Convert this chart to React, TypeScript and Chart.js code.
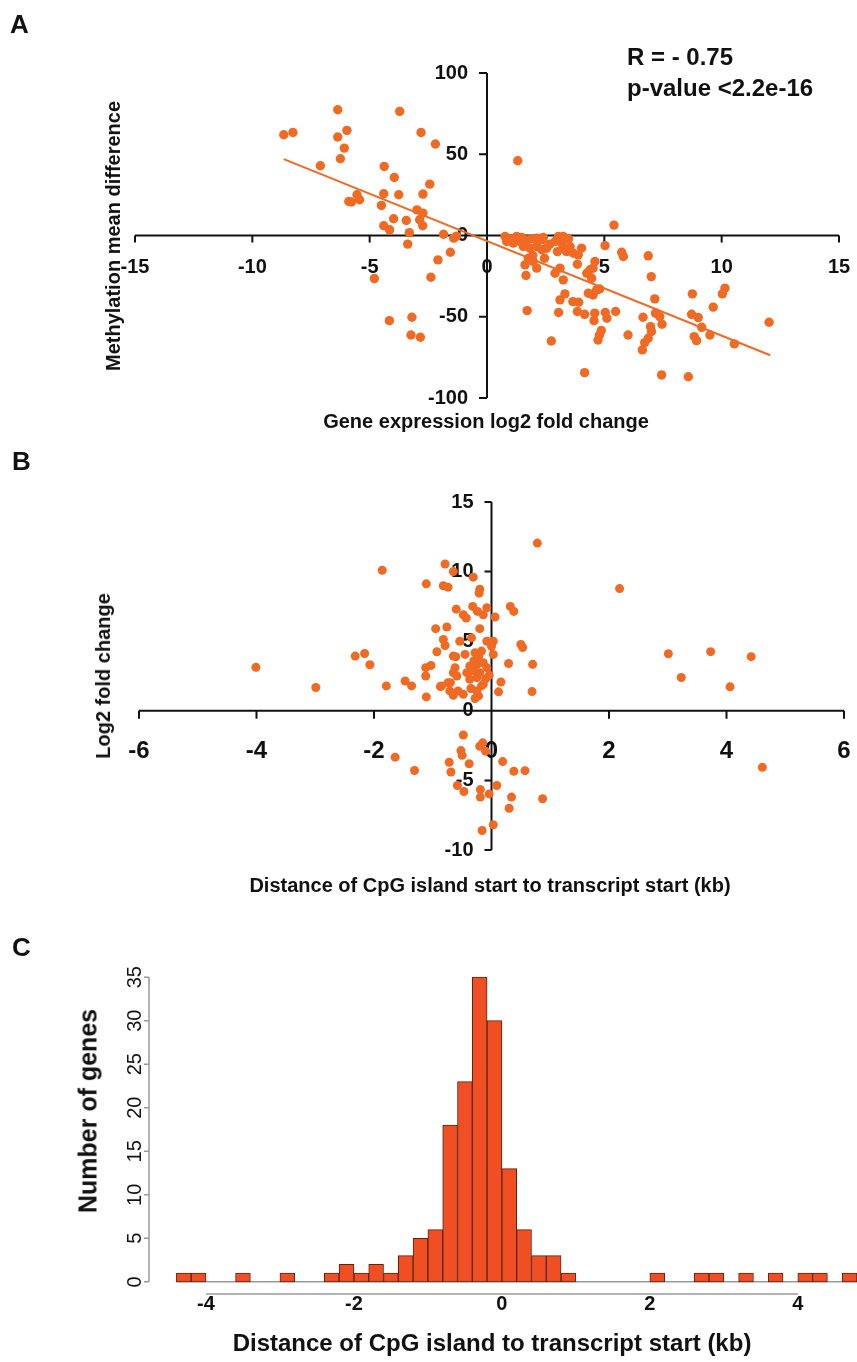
import React, { useEffect, useRef } from 'react';
import { Chart, registerables } from 'chart.js';

Chart.register(...registerables);

const FONT = "'Liberation Sans', Arial, Helvetica, sans-serif";
const POINT_COLOR = '#F06A24';
const BAR_COLOR = '#F04E23';
const BAR_EDGE = '#5c2414';
const AXIS_GRAY = '#9a9a9a';

// ---------- Panel A: methylation difference vs expression fold change ----------
const aLog2FoldChange: number[] = [
  -8.66, -8.27, -6.36, -3.72, -6.36, -5.97, -2.81, -6.08, -6.25, -2.2, -7.1, -4.38, -3.95, -2.44, -2.73,
  -3.76, -4.4, -5.54, -5.43, -5.89, -5.78, -4.5, -2.98, -2.73, -2.87, -2.74, -3.98, -3.44, -4.4, -4.15,
  -3.31, -3.38, -1.85, -1.42, -1.3, -1.56, -2.09, -2.39, -4.8, -4.16, -3.2, -3.24, -2.84,
  0.77, 0.98, 1.26, 1.48, 1.41, 1.12, 0.84, 1.69, 1.9, 2.12, 2.33, 2.4, 3.04, 3.25, 3.47, 3.18, 2.9, 2.68,
  1.55, 1.83, 2.12, 2.33, 2.54, 3.54, 3.39, 3.68, 4.03, 3.89, 1.95, 1.76, 1.62, 2.12, 1.97, 3.25, 3.0,
  5.03, 5.74, 5.81, 3.85, 3.11, 2.9, 1.66, 3.25, 4.25, 4.39, 4.6, 4.46, 4.67, 4.32, 3.32, 3.11,
  1.31, 5.41, 6.87, 7.0, 7.15, 8.75, 10.14, 10.03, 9.64, 8.72, 9.0, 9.15, 9.5, 8.83, 8.93, 10.54, 12.02,
  6.65, 7.18, 7.36, 7.46, 6.97, 7.01, 6.87, 6.72, 6.62, 6.01, 7.44, 8.58, 4.16, 2.74, 1.71, 3.05, 3.66,
  3.91, 3.85, 4.16, 4.59, 5.04, 4.56, 5.11, 5.48, 4.87, 4.79, 4.73, 4.52, 4.8, 4.52, 2.45,
];
const aMethylationDiff: number[] = [
  62, 63.4, 77.4, 76.4, 60.6, 64.7, 63.4, 53.8, 47.2, 56.3, 42.9, 42.5, 35.7, 31.6, 25.5,
  25.1, 25.7, 25.1, 22, 20.9, 20.6, 18.5, 15.8, 13.8, 9.7, 6, 10.3, 9.2, 6, 3.5,
  1.8, -5.3, 0.8, -1.6, -0.4, -10.3, -15, -25.7, -26.5, -52.4, -50.3, -61.2, -62.6,
  -0.6, -2.1, -0.6, -1.2, -3.7, -4.7, -3.7, -2.7, -2.1, -1.6, -2.7, -1.2, -0.6, -0.6, -2.1, -4.7, -3.7, -5.3,
  -6.8, -7.8, -6.8, -8.8, -7.8, -6.8, -9.9, -10.9, -7.8, -11.9, -12.3, -14, -18.1, -20.1, -16, -7.8, -9.9,
  -6.2, -10.3, -12.9, -17.7, -20.1, -23.2, -24.6, -27.3, -23.2, -21.1, -16, -26.3, -33.5, -35.5, -35.9, -39.6,
  46, 6.4, -12.5, -25.3, -39, -35.9, -32.4, -35.9, -44.1, -48.5, -50.5, -56.5, -61.2, -62.2, -64.7, -66.7, -53.4,
  -50.3, -47.8, -49.9, -54.6, -56.1, -59.1, -63.2, -65.9, -70.4, -61.2, -85.8, -86.9, -84.4, -64.9, -46.2, -47.4, -40.7,
  -41.1, -46.8, -48.5, -47.8, -47.4, -52.4, -50.9, -46.8, -58.5, -61.2, -64.3, -36.6, -32.9, -20.1, -14,
];
const aFitLineX: number[] = [-8.66, 12.07];
const aFitLineY: number[] = [47, -73.7];
const aXTicks: number[] = [-15, -10, -5, 0, 5, 10, 15];
const aYTicks: number[] = [-100, -50, 0, 50, 100];

// ---------- Panel B: fold change vs CpG island distance ----------
const bDistanceKb: number[] = [
  0.78, 2.18, 3.01, 3.73, 4.42, 3.23, 4.06, 4.61, 0.87, 0.7, 0.69, 0.5, 0.53,
  -4.01, -2.99, -1.86, -2.32, -2.16, -2.07, -1.79, -1.47, -1.36, -1.64, -1.31, -1.11, -0.95, -0.93,
  -1.12, -1.03, -1.12, -1.11, -0.87, -0.7, -0.61,
  0.57, 0.38, 0.19, 0.09, 0.34, 0.3, 0.03, -0.16, -0.15, -0.2, -0.48, -0.52, -0.5, -0.38, -0.72, -0.69,
  -0.58, -0.47, -0.19, -0.04, -0.19, -0.1,
  -0.79, -0.65, -0.31, -0.2, -0.21, -0.82, -0.74, -0.6, -0.48, -0.43, -0.32, -0.24, -0.14, -0.08, 0.06,
  0.32, 0.38, -0.76, -0.2, -0.82, -0.79, -0.54, -0.34, -0.08, 0.03, 0.0, -0.17, -0.28, -0.65, -0.45, 0.03,
  0.29, -0.14, -0.25, -0.37, -0.31, -0.42, -0.2, -0.08, -0.62, -0.65, -0.59, -0.04, -0.37, -0.25, -0.14,
  0.16, -0.74, -0.85, -0.71, -0.57, -0.48, -0.65, -0.25, -0.17, -0.22, -0.28, 0.12, -0.35, -0.1, -0.3, -0.22,
];
const bLog2FoldChange: number[] = [
  12.05, 8.78, 4.1, 4.25, 3.89, 2.39, 1.72, -4.06, -6.32, 3.34, 1.38, 4.77, 4.55,
  3.12, 1.67, 10.1, 3.93, 4.12, 3.31, 1.79, 2.14, 1.79, -3.33, -4.29, 9.12, 5.9, 4.24,
  3.1, 3.26, 2.5, 1.0, 1.74, 2.02, 3.88,
  -4.3, -4.34, -3.65, -5.37, -6.2, -7.0, -8.19, -8.6, -2.3, -2.55, -1.74, -2.86, -3.2, -3.8, -3.7, -4.4,
  -5.37, -5.8, -5.66, -5.97, -6.2, -2.9,
  10.55, 10.0, 9.6, 8.74, 8.45, 8.98, 8.88, 7.3, 6.9, 6.67, 7.5, 7.14, 6.9, 7.4, 6.74,
  7.5, 7.14, 6.02, 5.9, 5.12, 4.69, 5.0, 5.24, 5.0, 5.0, 4.64, 4.29, 4.17, 3.93, 4.05, 4.05,
  3.4, 3.45, 3.33, 3.21, 2.86, 2.74, 2.74, 3.1, 3.1, 2.74, 2.5, 2.55, 2.26, 2.38, 1.9,
  2.07, 2.02, 1.79, 1.43, 1.43, 1.19, 1.12, 1.43, 1.79, 1.07, 0.88, 1.36, 1.6, 2.3, 3.6, 3.9,
];
const bXTicks: number[] = [-6, -4, -2, 0, 2, 4, 6];
const bYTicks: number[] = [-10, -5, 0, 5, 10, 15];

// ---------- Panel C: histogram of CpG island distance ----------
const cBinStarts: number[] = [
  -4.4, -4.2, -4.0, -3.8, -3.6, -3.4, -3.2, -3.0, -2.8, -2.6, -2.4, -2.2, -2.0, -1.8, -1.6, -1.4,
  -1.2, -1.0, -0.8, -0.6, -0.4, -0.2, 0.0, 0.2, 0.4, 0.6, 0.8, 1.0, 1.2, 1.4, 1.6, 1.8,
  2.0, 2.2, 2.4, 2.6, 2.8, 3.0, 3.2, 3.4, 3.6, 3.8, 4.0, 4.2, 4.4, 4.6,
];
const cGeneCounts: number[] = [
  1, 1, 0, 0, 1, 0, 0, 1, 0, 0, 1, 2, 1, 2, 1, 3,
  5, 6, 18, 23, 35, 30, 13, 6, 3, 3, 1, 0, 0, 0, 0, 0,
  1, 0, 0, 1, 1, 0, 1, 0, 1, 0, 1, 1, 0, 1,
];
const cBinWidth = 0.2;
const cXTicks: number[] = [-4, -2, 0, 2, 4];
const cYTicks: number[] = [0, 5, 10, 15, 20, 25, 30, 35];

type CrossCfg = {
  xTicks: number[]; yTicks: number[];
  tickLenX: number; tickLenY: number;
  xLabelGap: number; yLabelGap: number;
  xFont: string; yFont: string;
};

function makeCrossAxes(cfg: CrossCfg) {
  return {
    id: 'crossAxes',
    beforeDatasetsDraw(chart: any) {
      const { ctx, chartArea } = chart;
      const xs = chart.scales.x;
      const ys = chart.scales.y;
      const x0 = xs.getPixelForValue(0);
      const y0 = ys.getPixelForValue(0);
      ctx.save();
      ctx.strokeStyle = '#111';
      ctx.lineWidth = 2;
      ctx.beginPath();
      ctx.moveTo(chartArea.left, y0);
      ctx.lineTo(chartArea.right, y0);
      ctx.moveTo(x0, chartArea.top);
      ctx.lineTo(x0, chartArea.bottom);
      cfg.xTicks.forEach((v) => {
        const px = xs.getPixelForValue(v);
        ctx.moveTo(px, y0);
        ctx.lineTo(px, y0 + cfg.tickLenX);
      });
      cfg.yTicks.forEach((v) => {
        const py = ys.getPixelForValue(v);
        ctx.moveTo(x0, py);
        ctx.lineTo(x0 - cfg.tickLenY, py);
      });
      ctx.stroke();
      ctx.fillStyle = '#111';
      ctx.textBaseline = 'middle';
      ctx.font = cfg.xFont;
      ctx.textAlign = 'center';
      cfg.xTicks.forEach((v) => ctx.fillText(String(v), xs.getPixelForValue(v), y0 + cfg.xLabelGap));
      ctx.font = cfg.yFont;
      ctx.textAlign = 'right';
      cfg.yTicks.forEach((v) => ctx.fillText(String(v), x0 - cfg.yLabelGap, ys.getPixelForValue(v)));
      ctx.restore();
    },
  };
}

const histAxes = {
  id: 'histAxes',
  afterDatasetsDraw(chart: any) {
    const { ctx, chartArea } = chart;
    const xs = chart.scales.x;
    const ys = chart.scales.y;
    ctx.save();
    ctx.strokeStyle = AXIS_GRAY;
    ctx.lineWidth = 1.5;
    ctx.beginPath();
    const left = chartArea.left;
    ctx.moveTo(left, ys.getPixelForValue(cYTicks[0]));
    ctx.lineTo(left, ys.getPixelForValue(cYTicks[cYTicks.length - 1]));
    cYTicks.forEach((v) => {
      const py = ys.getPixelForValue(v);
      ctx.moveTo(left, py);
      ctx.lineTo(left - 5, py);
    });
    const bottom = chartArea.bottom;
    ctx.moveTo(xs.getPixelForValue(cXTicks[0]), bottom);
    ctx.lineTo(xs.getPixelForValue(cXTicks[cXTicks.length - 1]), bottom);
    ctx.stroke();

    ctx.fillStyle = '#111';
    ctx.textAlign = 'center';
    ctx.textBaseline = 'middle';
    ctx.font = `20px ${FONT}`;
    cYTicks.forEach((v) => {
      ctx.save();
      ctx.translate(left - 14, ys.getPixelForValue(v));
      ctx.rotate(-Math.PI / 2);
      ctx.fillText(String(v), 0, 0);
      ctx.restore();
    });
    ctx.font = `bold 20px ${FONT}`;
    cXTicks.forEach((v) => ctx.fillText(String(v), xs.getPixelForValue(v), bottom + 10));
    ctx.restore();
  },
};

const baseOptions = {
  responsive: false,
  animation: false as const,
  events: [] as any[],
  plugins: { legend: { display: false }, tooltip: { enabled: false } },
};

function Txt(props: { text: string; x: number; y: number; size: number; rotate?: boolean; left?: boolean; weight?: number }) {
  const { text, x, y, size, rotate, left, weight } = props;
  const transform = left
    ? 'translate(0,-50%)'
    : rotate
    ? 'translate(-50%,-50%) rotate(-90deg)'
    : 'translate(-50%,-50%)';
  return (
    <div
      style={{
        position: 'absolute',
        left: x,
        top: y,
        transform,
        fontFamily: FONT,
        fontWeight: weight ?? 700,
        fontSize: size,
        lineHeight: `${size}px`,
        whiteSpace: 'nowrap',
        color: '#111',
      }}
    >
      {text}
    </div>
  );
}

export default function App() {
  const refA = useRef<HTMLCanvasElement>(null);
  const refB = useRef<HTMLCanvasElement>(null);
  const refC = useRef<HTMLCanvasElement>(null);

  useEffect(() => {
    const charts: Chart[] = [];

    charts.push(
      new Chart(refA.current as HTMLCanvasElement, {
        type: 'scatter',
        data: {
          datasets: [
            {
              data: aFitLineX.map((x, i) => ({ x, y: aFitLineY[i] })),
              showLine: true,
              borderColor: POINT_COLOR,
              borderWidth: 2,
              pointRadius: 0,
              order: 0,
            } as any,
            {
              data: aLog2FoldChange.map((x, i) => ({ x, y: aMethylationDiff[i] })),
              backgroundColor: POINT_COLOR,
              borderWidth: 0,
              pointRadius: 4.7,
              order: 1,
            },
          ],
        },
        options: {
          ...baseOptions,
          layout: { padding: { left: 135, right: 18, top: 73, bottom: 42 } },
          scales: {
            x: { type: 'linear', display: false, min: -15, max: 15 },
            y: { type: 'linear', display: false, min: -100, max: 100 },
          },
        } as any,
        plugins: [
          makeCrossAxes({
            xTicks: aXTicks, yTicks: aYTicks,
            tickLenX: 7, tickLenY: 8,
            xLabelGap: 32, yLabelGap: 19,
            xFont: `bold 20px ${FONT}`, yFont: `bold 20px ${FONT}`,
          }),
        ],
      })
    );

    charts.push(
      new Chart(refB.current as HTMLCanvasElement, {
        type: 'scatter',
        data: {
          datasets: [
            {
              data: bDistanceKb.map((x, i) => ({ x, y: bLog2FoldChange[i] })),
              backgroundColor: POINT_COLOR,
              borderWidth: 0,
              pointRadius: 4.5,
            },
          ],
        },
        options: {
          ...baseOptions,
          layout: { padding: { left: 139, right: 13, top: 62, bottom: 50 } },
          scales: {
            x: { type: 'linear', display: false, min: -6, max: 6 },
            y: { type: 'linear', display: false, min: -10, max: 15 },
          },
        } as any,
        plugins: [
          makeCrossAxes({
            xTicks: bXTicks, yTicks: bYTicks,
            tickLenX: 8, tickLenY: 7,
            xLabelGap: 41, yLabelGap: 18,
            xFont: `bold 24px ${FONT}`, yFont: `bold 20px ${FONT}`,
          }),
        ],
      })
    );

    const lastEdge = cBinStarts[cBinStarts.length - 1] + cBinWidth;
    charts.push(
      new Chart(refC.current as HTMLCanvasElement, {
        type: 'bar',
        data: {
          datasets: [
            {
              type: 'line',
              data: [
                { x: cBinStarts[0], y: 0 },
                { x: lastEdge, y: 0 },
              ],
              borderColor: AXIS_GRAY,
              borderWidth: 1.5,
              pointRadius: 0,
              order: 1,
            } as any,
            {
              type: 'bar',
              data: cBinStarts.map((s, i) => ({ x: s + cBinWidth / 2, y: cGeneCounts[i] })),
              backgroundColor: BAR_COLOR,
              borderColor: BAR_EDGE,
              borderWidth: 1,
              borderSkipped: false,
              barPercentage: 1,
              categoryPercentage: 1,
              order: 0,
            } as any,
          ],
        },
        options: {
          ...baseOptions,
          layout: { padding: { left: 149, right: 0, top: 65, bottom: 68 } },
          scales: {
            x: { type: 'linear', display: false, min: -4.77, max: 4.8, offset: false },
            y: { type: 'linear', display: false, min: -1.4, max: 36.4 },
          },
        } as any,
        plugins: [histAxes],
      })
    );

    return () => charts.forEach((c) => c.destroy());
  }, []);

  return (
    <div style={{ position: 'absolute', left: 0, top: 0, width: 857, height: 1362, background: '#fff', overflow: 'hidden' }}>
      <canvas ref={refA} width={857} height={440} style={{ position: 'absolute', left: 0, top: 0, width: 857, height: 440 }} />
      <canvas ref={refB} width={857} height={460} style={{ position: 'absolute', left: 0, top: 440, width: 857, height: 460 }} />
      <canvas ref={refC} width={857} height={462} style={{ position: 'absolute', left: 0, top: 900, width: 857, height: 462 }} />

      <Txt text="A" x={10} y={24} size={26} left />
      <Txt text="R = - 0.75" x={627} y={57} size={24} left />
      <Txt text="p-value <2.2e-16" x={627} y={88} size={24} left />
      <Txt text="Methylation mean difference" x={113} y={236} size={20} rotate />
      <Txt text="Gene expression log2 fold change" x={486} y={421} size={20} />

      <Txt text="B" x={12} y={461} size={26} left />
      <Txt text="Log2 fold change" x={103} y={676} size={20} rotate />
      <Txt text="Distance of CpG island start to transcript start (kb)" x={490} y={885} size={20} />

      <Txt text="C" x={12} y={947} size={26} left />
      <Txt text="Number of genes" x={88} y={1111} size={25} rotate />
      <Txt text="Distance of CpG island to transcript start (kb)" x={492} y={1343} size={24} />
    </div>
  );
}
